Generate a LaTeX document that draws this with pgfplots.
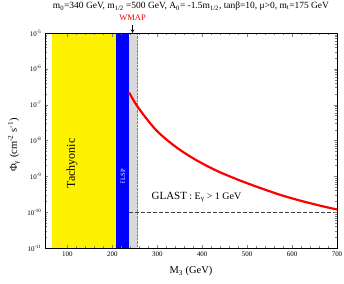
\documentclass[border=0pt]{standalone}
\usepackage{fontspec}
\setmainfont{Liberation Serif}
\usepackage{pgfplots}
\pgfplotsset{compat=1.18}
\begin{document}
\begin{tikzpicture}
\begin{axis}[name=ax, scale only axis, width=292bp, height=215bp,
  ymode=log, xmin=50, xmax=700, ymin=1e-11, ymax=1e-5,
  xtick={100,200,...,700}, minor x tick num=4,
  ytick={1e-11,1e-10,1e-9,1e-8,1e-7,1e-6,1e-5},
  yticklabels={10\textsuperscript{-11},10\textsuperscript{-10},10\textsuperscript{-9},10\textsuperscript{-8},10\textsuperscript{-7},10\textsuperscript{-6},10\textsuperscript{-5}},
  tick align=inside, major tick length=3.5bp, minor tick length=2bp,
  axis on top, clip=false,
  /pgf/number format/assume math mode=true,
  tick label style={font=\fontsize{7}{8}\selectfont},
  xlabel={M\textsubscript{3} (GeV)},
  ylabel={Φ\textsubscript{γ} (cm\textsuperscript{-2} s\textsuperscript{-1})},
  label style={font=\fontsize{10.5}{11}\selectfont},
  xlabel style={at={(axis description cs:0.5,-0.107)}, anchor=center},
  ylabel style={at={(axis description cs:-0.106,0.479)}, anchor=center},
]
\addplot[fill=yellow, draw=none] coordinates {(65,1e-11) (209,1e-11) (209,1e-5) (65,1e-5)} -- cycle;
\addplot[fill=blue, draw=none] coordinates {(209,1e-11) (237,1e-11) (237,1e-5) (209,1e-5)} -- cycle;
\addplot[fill=black!15, draw=none] coordinates {(237,1e-11) (256,1e-11) (256,1e-5) (237,1e-5)} -- cycle;
\addplot[densely dotted, black!50] coordinates {(256,1e-11) (256,1e-5)};
\addplot[black!75, dash pattern=on 4bp off 2bp] coordinates {(237,1e-10) (700,1e-10)};
\addplot[red, line width=2.2bp, smooth] coordinates {
(237,2.21e-7) (252,1.05e-7) (274,4.37e-8) (297,1.97e-8) (319,1.10e-8)
(341,6.65e-9) (364,4.22e-9) (386,2.87e-9) (409,2.00e-9) (442,1.26e-9)
(487,7.41e-10) (532,4.60e-10) (577,2.95e-10) (622,2.04e-10) (666,1.48e-10)
(700,1.19e-10)};
\node[rotate=90, font=\fontsize{12}{12}\selectfont] at (axis cs:110,2.3e-9) {Tachyonic};
\node[rotate=90, white, font=\fontsize{6.5}{7}\selectfont] at (axis cs:223,1e-9) {\~{t} LSP};
\node[anchor=west, inner sep=0pt] at (axis cs:287,2.63e-10) {{\fontsize{11}{11}\selectfont GLAST} {\fontsize{10}{10}\selectfont : E\textsubscript{γ} > 1 GeV}};
\node[red, font=\fontsize{8.5}{9}\selectfont] at ([yshift=15bp]axis cs:245,1e-5) {WMAP};
\draw[-stealth, semithick] ([yshift=8bp]axis cs:245,1e-5) -- (axis cs:245,1e-5);
\node[font=\fontsize{9.5}{10}\selectfont] at ([yshift=26.5bp]rel axis cs:0.5,1) {m\textsubscript{0}=340 GeV, m\textsubscript{1/2} =500 GeV, A\textsubscript{0}= -1.5m\textsubscript{1/2}, tanβ=10, μ>0, m\textsubscript{t}=175 GeV};
\end{axis}
\pgfresetboundingbox
\path ([shift={(-45bp,-36bp)}]ax.south west) rectangle ([shift={(7bp,33bp)}]ax.north east);
\end{tikzpicture}
\end{document}
